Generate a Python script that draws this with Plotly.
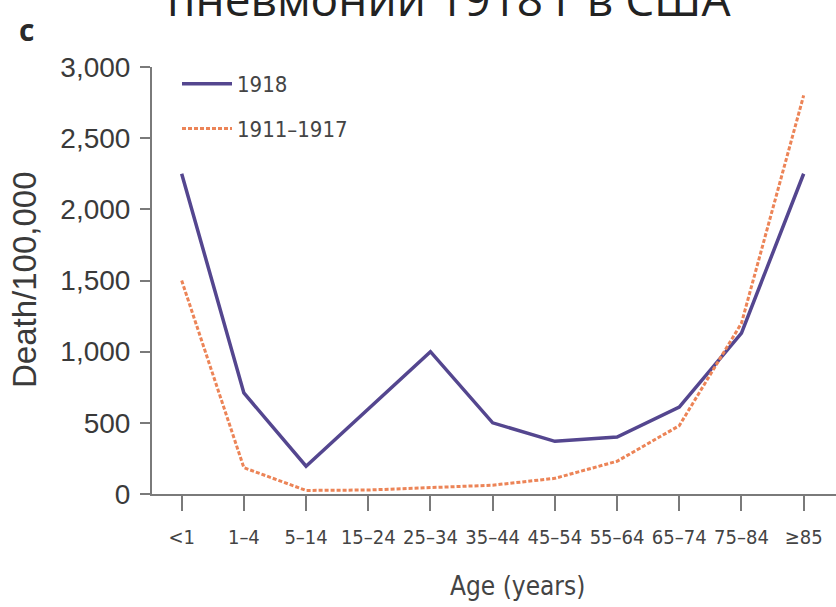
import plotly.graph_objects as go

age_groups = ["<1", "1–4", "5–14", "15–24", "25–34", "35–44", "45–54", "55–64", "65–74", "75–84", "≥85"]
deaths_1918 = [2250, 710, 195, 600, 1000, 500, 370, 400, 610, 1130, 2250]
deaths_1911_1917 = [1500, 185, 25, 28, 45, 62, 110, 230, 480, 1200, 2800]
y_ticks = [0, 500, 1000, 1500, 2000, 2500, 3000]
y_tick_labels = ["0", "500", "1,000", "1,500", "2,000", "2,500", "3,000"]

idx = list(range(len(age_groups)))

COND = "Liberation Sans Narrow, DejaVu Sans Condensed, Arial Narrow, Liberation Sans, sans-serif"
SANS = "Liberation Sans, Arial, sans-serif"

fig = go.Figure()
fig.add_trace(go.Scatter(
    x=idx, y=deaths_1918, mode="lines", name="1918", legendgroup="a",
    line=dict(color="#54468f", width=3.5),
))
fig.add_trace(go.Scatter(
    x=idx, y=deaths_1911_1917, mode="lines", name="1911–1917", legendgroup="b",
    line=dict(color="#ec8457", width=3, dash="4px,2px"),
))

W, H = 836, 607
L, R, T, B = 152, 0, 67, 113
pw, ph = W - L - R, H - T - B

def px_x(p):
    return (p - L) / pw

def px_y(p):
    return (H - B - p) / ph

fig.update_layout(
    width=W, height=H,
    margin=dict(l=L, r=R, t=T, b=B),
    paper_bgcolor="white", plot_bgcolor="white",
    showlegend=True,
    legend=dict(
        x=px_x(177), y=px_y(63), xanchor="left", yanchor="top",
        bgcolor="rgba(0,0,0,0)", borderwidth=0,
        font=dict(family=COND, size=22, color="#444"),
        tracegroupgap=13, itemwidth=50,
    ),
    xaxis=dict(
        range=[-0.477, 10.52], tickmode="array", tickvals=idx, ticktext=age_groups,
        showgrid=False, zeroline=False, showline=True, linecolor="#7a7a7a", linewidth=2,
        ticks="outside", ticklen=15, tickwidth=2, tickcolor="#7a7a7a",
        tickfont=dict(family=COND, size=20, color="#444"),
        tickangle=0, ticklabelstandoff=9,
    ),
    yaxis=dict(
        range=[0, 3000], tickmode="array", tickvals=y_ticks, ticktext=y_tick_labels,
        showgrid=False, zeroline=False, showline=True, linecolor="#7a7a7a", linewidth=2,
        ticks="outside", ticklen=10, tickwidth=2, tickcolor="#7a7a7a",
        tickfont=dict(family=SANS, size=28, color="#3a3a3a"),
        ticklabelstandoff=4,
    ),
    annotations=[
        dict(text="Death/100,000", textangle=-90, xref="paper", yref="paper",
             x=px_x(24), y=px_y(280), xanchor="center", yanchor="middle", showarrow=False,
             font=dict(family=SANS, size=33, color="#3a3a3a")),
        dict(text="Age (years)", xref="paper", yref="paper",
             x=px_x(517), y=px_y(586), xanchor="center", yanchor="middle", showarrow=False,
             font=dict(family=COND, size=26, color="#444")),
        dict(text="<b>c</b>", xref="paper", yref="paper",
             x=px_x(26), y=px_y(30), xanchor="center", yanchor="middle", showarrow=False,
             font=dict(family="Open Sans, sans-serif", size=30, color="#2a2a2a")),
        dict(text="пневмонии 1918 г в США", xref="paper", yref="paper",
             x=px_x(449), y=px_y(-2), xanchor="center", yanchor="middle", showarrow=False,
             font=dict(family="Open Sans, sans-serif", size=46, color="#222")),
    ],
)

fig.write_html("out.html")
